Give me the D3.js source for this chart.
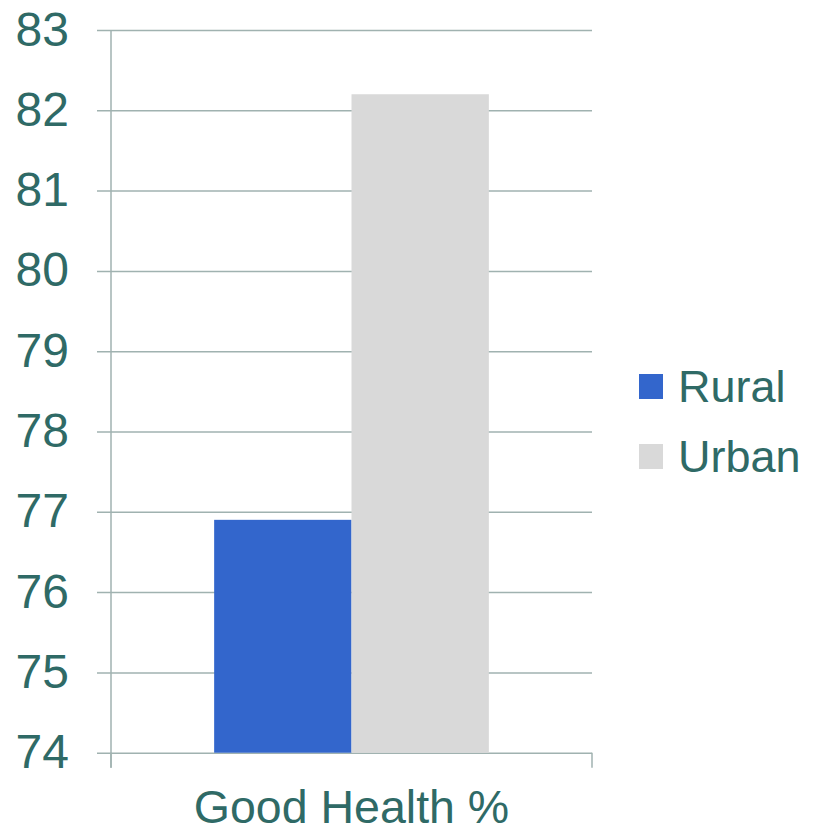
<!DOCTYPE html>
<html>
<head>
<meta charset="utf-8">
<script src="https://cdn.jsdelivr.net/npm/d3@7"></script>
<style>
  html, body { margin: 0; padding: 0; background: #ffffff; }
  svg { display: block; }
  text { font-family: "Liberation Sans", Arial, sans-serif; fill: #2f6a66; }
</style>
</head>
<body>
<svg id="chart" width="819" height="832"></svg>
<script>
// Share of people reporting good health, by area type
const categories = ["Good Health %"];
const seriesNames = ["Rural", "Urban"];
const rural = [76.9];
const urban = [82.2];
const yTicks = [74, 75, 76, 77, 78, 79, 80, 81, 82, 83];
const colors = ["#3366cc", "#d9d9d9"];

const seriesValues = [rural, urban];
const rows = categories.map((c, i) => ({
  category: c,
  values: seriesNames.map((s, j) => ({ series: s, value: seriesValues[j][i] }))
}));

const svg = d3.select("#chart");
const plot = { left: 111, right: 592, top: 30, bottom: 752.7 };
const gridColor = "#a0b2b0";

const y = d3.scaleLinear().domain([74, 83]).range([plot.bottom, plot.top]);
const x0 = d3.scaleBand().domain(categories).range([plot.left, plot.right])
  .paddingInner(0).paddingOuter(0.3755);
const x1 = d3.scaleBand().domain(seriesNames).range([0, x0.bandwidth()]).padding(0);
const color = d3.scaleOrdinal().domain(seriesNames).range(colors);

// horizontal gridlines with tick labels, extended left as ticks
const yAxis = d3.axisLeft(y).tickValues(yTicks).tickSize(plot.right - plot.left + 14)
  .tickPadding(28).tickFormat(d3.format("d"));
const gy = svg.append("g").attr("transform", `translate(${plot.right},0)`).call(yAxis);
gy.select(".domain").remove();
gy.selectAll(".tick line").attr("stroke", gridColor).attr("stroke-width", 1.5)
  .attr("x1", 0).attr("x2", -(plot.right - plot.left + 14));
gy.selectAll(".tick text")
  .attr("x", -(plot.right - plot.left) - 42)
  .attr("dy", null).attr("y", 15)
  .style("font-size", "48px").attr("fill", "#2f6a66")
  .attr("text-anchor", "end");

// bars
const groups = svg.append("g").selectAll("g").data(rows).join("g")
  .attr("transform", d => `translate(${x0(d.category)},0)`);
groups.selectAll("rect").data(d => d.values).join("rect")
  .attr("x", d => x1(d.series))
  .attr("width", x1.bandwidth())
  .attr("y", d => y(d.value))
  .attr("height", d => y(74) - y(d.value))
  .attr("fill", d => color(d.series));

// vertical axis line and bottom axis
svg.append("line").attr("x1", plot.left).attr("x2", plot.left)
  .attr("y1", plot.top).attr("y2", plot.bottom + 15)
  .attr("stroke", gridColor).attr("stroke-width", 1.5);
const xAxis = d3.axisBottom(x0).tickSize(0).tickFormat(d => d);
const gx = svg.append("g").attr("transform", `translate(0,${plot.bottom})`).call(xAxis);
gx.select(".domain").remove();
gx.selectAll(".tick text").attr("y", 70).attr("dy", null)
  .style("font-size", "46.5px").attr("fill", "#2f6a66");
[plot.left, plot.right].forEach(px => {
  svg.append("line").attr("x1", px).attr("x2", px)
    .attr("y1", plot.bottom).attr("y2", plot.bottom + 15)
    .attr("stroke", gridColor).attr("stroke-width", 1.5);
});

// legend
const legend = svg.append("g").selectAll("g").data(seriesNames).join("g")
  .attr("transform", (d, i) => `translate(639,${374 + i * 70})`);
legend.append("rect").attr("width", 24).attr("height", 25).attr("fill", d => color(d));
legend.append("text").attr("x", 39).attr("y", 28)
  .style("font-size", "45px").text(d => d);
</script>
</body>
</html>
